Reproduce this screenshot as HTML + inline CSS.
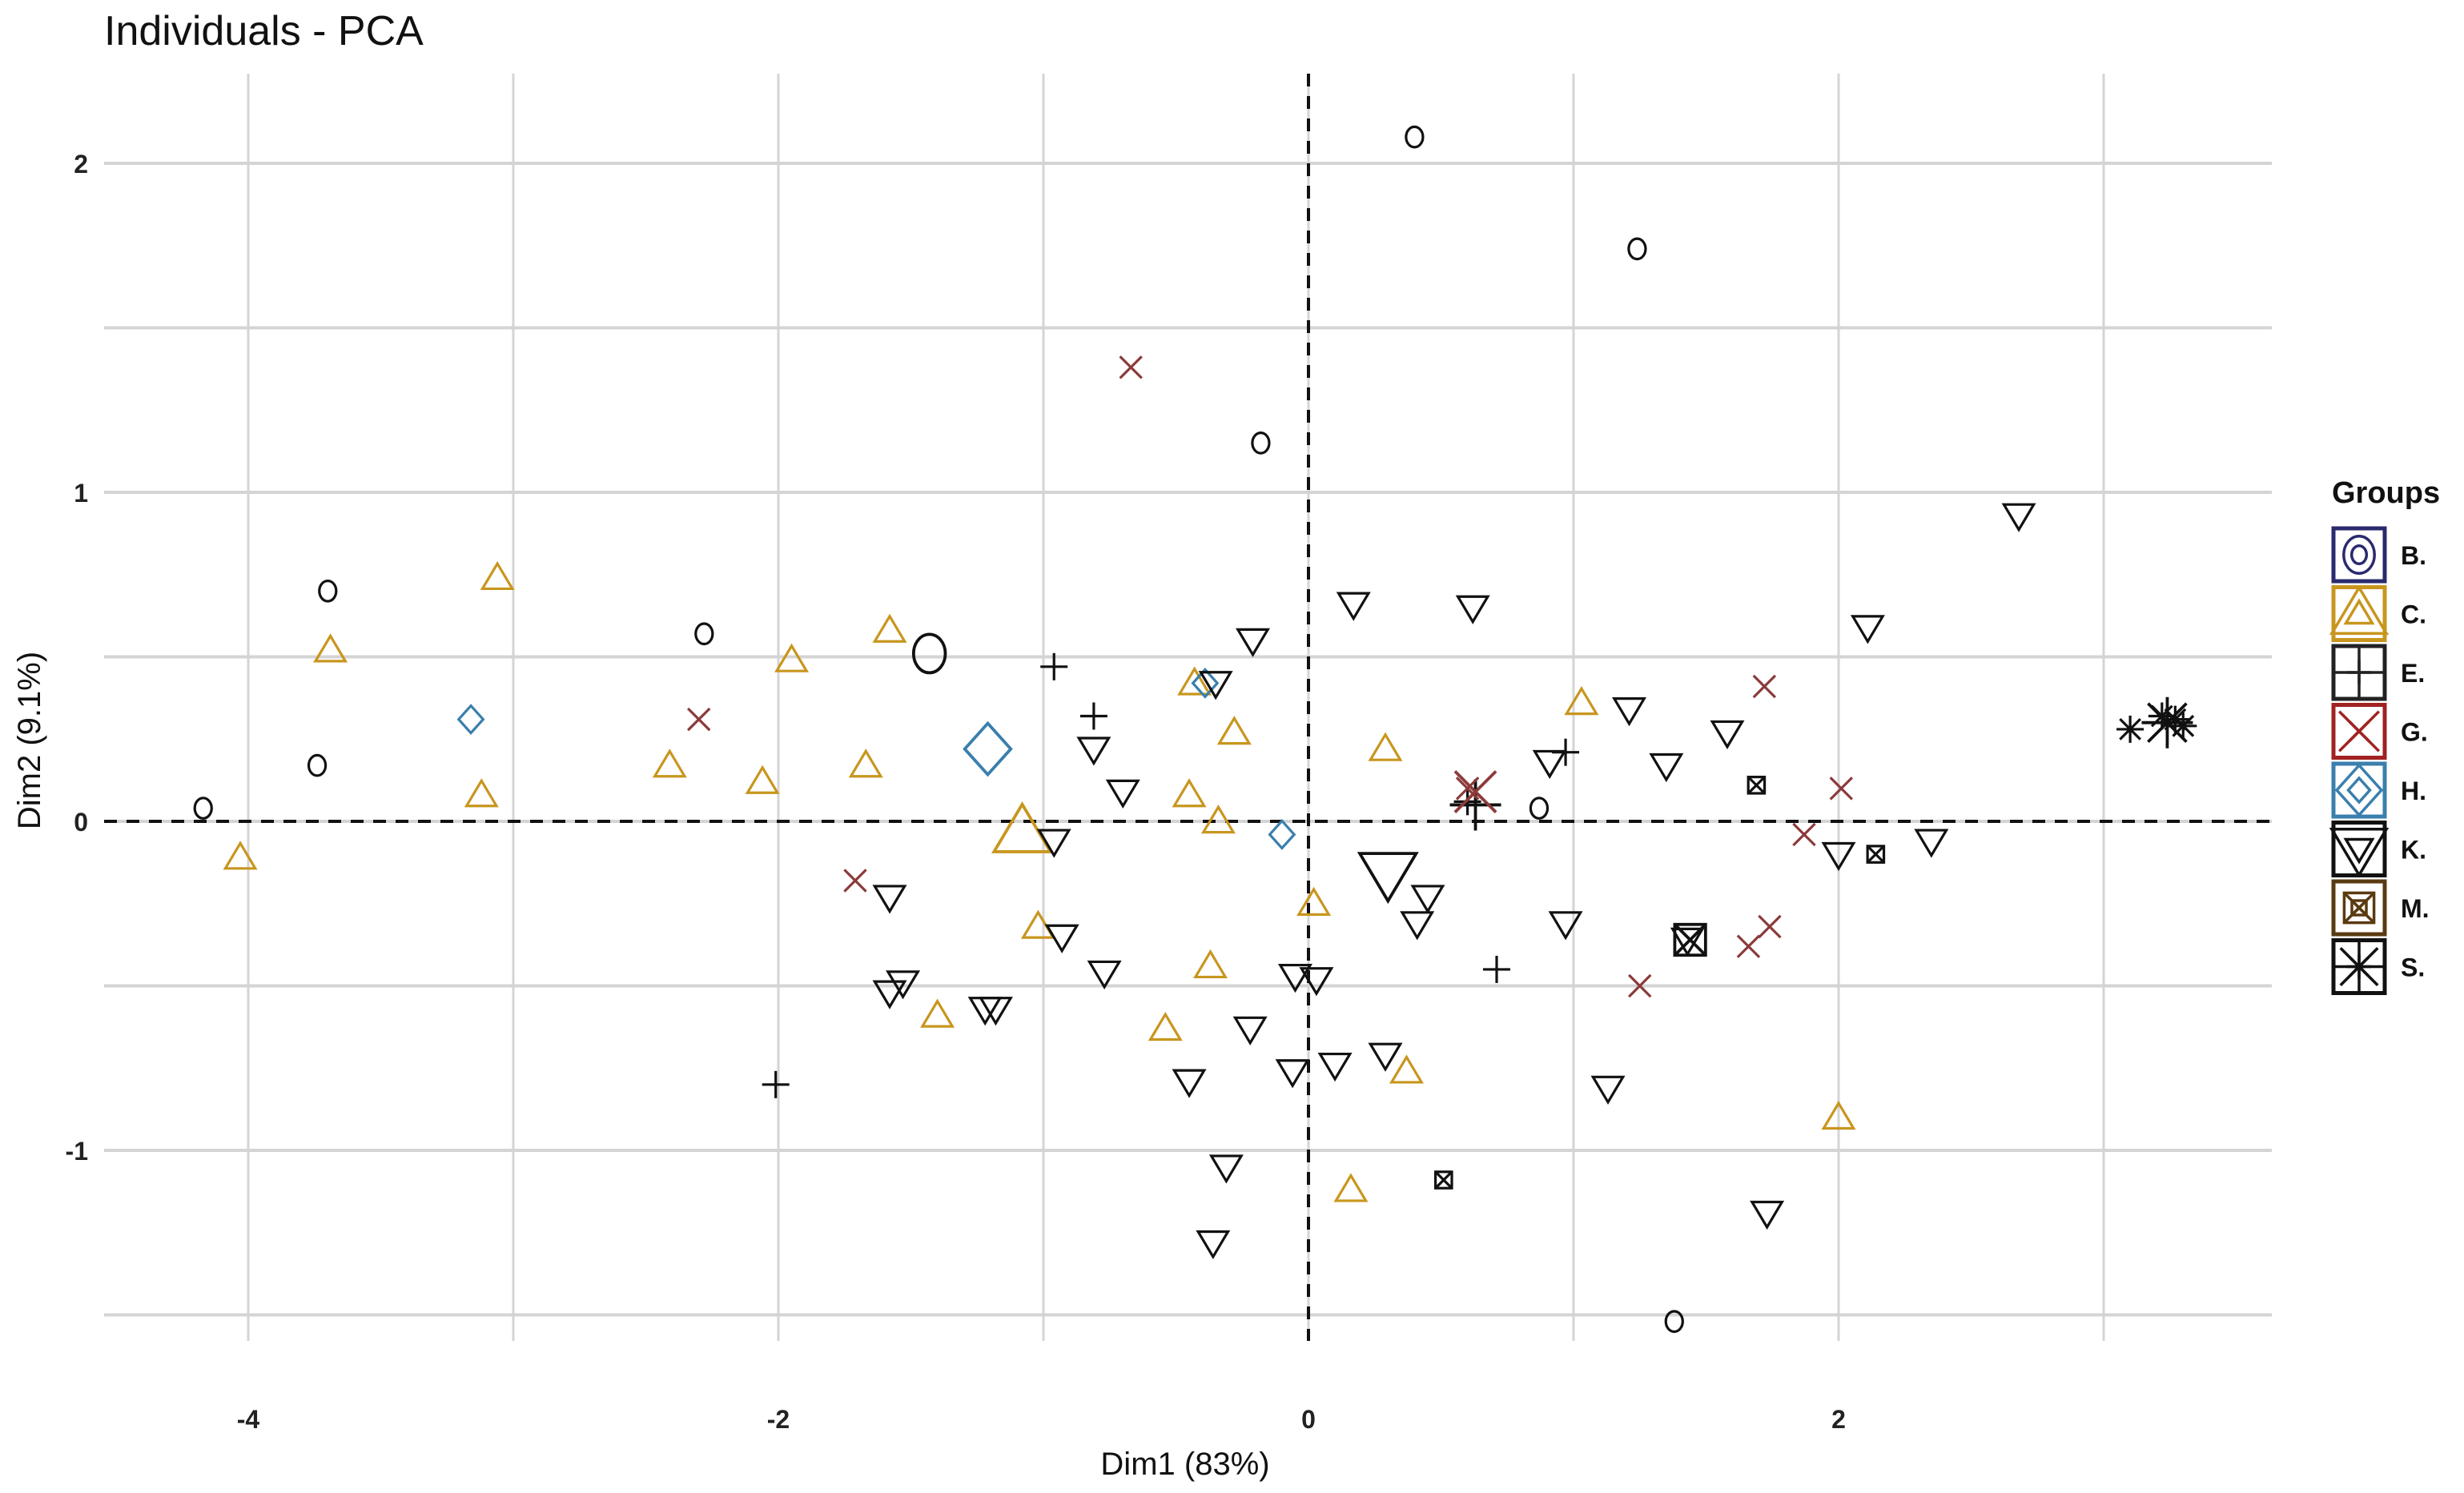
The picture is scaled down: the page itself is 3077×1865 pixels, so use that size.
<!DOCTYPE html>
<html><head><meta charset="utf-8"><style>
html,body{margin:0;padding:0;background:#fff}
svg{display:block}
text{font-family:"Liberation Sans",Arial,sans-serif}
</style></head><body>
<svg id="chart" width="3077" height="1865" viewBox="0 0 3077 1865" xmlns="http://www.w3.org/2000/svg">
<text x="130" y="56" font-size="52" fill="#111">Individuals - PCA</text>
<g id="grid"></g>
<g id="axes"></g>
<g id="pts"></g>
<text x="1480" y="1842" font-size="40" text-anchor="middle" fill="#111">Dim1 (83%)</text>
<text x="0" y="0" font-size="40" text-anchor="middle" fill="#111" transform="translate(50,925) rotate(-90)">Dim2 (9.1%)</text>
<g id="legend"></g>
</svg>
<script>
const xTicks=[-4,-2,0,2];
const yTicks=[-1,0,1,2];
const xMinor=[-3,-1,1,3];
const yMinor=[-1.5,-0.5,0.5,1.5];
const groups=["B.","C.","E.","G.","H.","K.","M.","S."];
const shapes=["circle","tri","plus","x","diamond","dtri","sqx","star"];
const colors=["#111","#C8961E","#111","#8B3A3A","#3A7FAD","#111","#111","#111"];
const legendColors=["#2a2a6e","#C8961E","#222","#A02222","#3A7FAD","#111","#5A3A10","#111"];
const groupB=[[0.40,2.08],[1.24,1.74],[-0.18,1.15],[-3.70,0.70],[-2.28,0.57],[-3.74,0.17],[-4.17,0.04],[0.87,0.04],[1.38,-1.52]];
const groupC=[[-3.06,0.74],[-3.69,0.52],[-3.12,0.08],[-4.03,-0.11],[-1.95,0.49],[-2.41,0.17],[-2.06,0.12],[-1.58,0.58],[-1.67,0.17],[-0.43,0.42],[-0.28,0.27],[-0.45,0.08],[-0.34,0.0],[-1.02,-0.32],[-1.40,-0.59],[-0.54,-0.63],[-0.37,-0.44],[0.02,-0.25],[0.29,0.22],[1.03,0.36],[0.37,-0.76],[0.16,-1.12],[2.0,-0.90]];
const groupE=[[-0.96,0.47],[-0.81,0.32],[0.97,0.21],[0.71,-0.45],[-2.01,-0.80],[0.60,0.06]];
const groupG=[[-0.67,1.38],[-2.30,0.31],[-1.71,-0.18],[1.72,0.41],[2.01,0.10],[1.87,-0.04],[1.74,-0.32],[1.66,-0.38],[1.25,-0.50],[0.60,0.10]];
const groupH=[[-3.16,0.31],[-0.10,-0.04],[-0.39,0.42]];
const groupK=[[2.68,0.93],[2.11,0.59],[0.17,0.66],[0.62,0.65],[-0.21,0.55],[-0.35,0.42],[1.21,0.34],[1.58,0.27],[1.35,0.17],[0.91,0.18],[-0.81,0.22],[-0.70,0.09],[-0.96,-0.06],[2.35,-0.06],[2.0,-0.10],[-1.58,-0.23],[0.45,-0.23],[0.41,-0.31],[0.97,-0.31],[-0.93,-0.35],[1.43,-0.36],[-1.53,-0.49],[-1.58,-0.52],[-1.22,-0.57],[-1.18,-0.57],[-0.77,-0.46],[-0.05,-0.47],[0.03,-0.48],[-0.22,-0.63],[0.29,-0.71],[0.10,-0.74],[-0.06,-0.76],[-0.45,-0.79],[1.13,-0.81],[-0.31,-1.05],[1.73,-1.19],[-0.36,-1.28]];
const groupM=[[1.69,0.11],[2.14,-0.10],[0.51,-1.09]];
const groupS=[[3.10,0.28],[3.27,0.31],[3.30,0.29],[3.22,0.32]];
const centroids=[[-1.43,0.51],[-1.08,-0.03],[0.63,0.05],[0.63,0.09],[-1.21,0.22],[0.30,-0.16],[1.44,-0.36],[3.24,0.30]];
const allGroups=[groupB,groupC,groupE,groupG,groupH,groupK,groupM,groupS];

const NS="http://www.w3.org/2000/svg";
const X0=1634,XS=331,Y0=1026,YS=411;
const L=130,R=2837,T=92,B=1675;
function sx(v){return X0+v*XS;}
function sy(v){return Y0-v*YS;}
function mk(tag,attrs,parent){const e=document.createElementNS(NS,tag);for(const k in attrs)e.setAttribute(k,attrs[k]);parent.appendChild(e);return e;}
const grid=document.getElementById('grid'),axes=document.getElementById('axes'),pts=document.getElementById('pts'),leg=document.getElementById('legend');
xMinor.concat(xTicks).forEach(v=>{const l=mk('line',{x1:sx(v),x2:sx(v),y1:T,y2:B,stroke:'#d4d4d4','stroke-width':3},grid);

});
yMinor.concat(yTicks).forEach(v=>{const l=mk('line',{x1:L,x2:R,y1:sy(v),y2:sy(v),stroke:'#d4d4d4','stroke-width':4},grid);

});
xTicks.forEach(v=>{const t=mk('text',{x:sx(v),y:1784,'font-size':32,'font-weight':'bold','text-anchor':'middle',fill:'#222'},axes);t.textContent=v<0?'-'+(-v):v;

});
yTicks.forEach(v=>{const t=mk('text',{x:110,y:sy(v)+12,'font-size':32,'font-weight':'bold','text-anchor':'end',fill:'#222'},axes);t.textContent=v<0?'-'+(-v):v;

});
const h0=mk('line',{x1:L,x2:R,y1:sy(0),y2:sy(0),stroke:'#111','stroke-width':4,'stroke-dasharray':'16,12'},axes);


const v0=mk('line',{x1:sx(0),x2:sx(0),y1:T,y2:B,stroke:'#111','stroke-width':4,'stroke-dasharray':'16,12'},axes);



function shape(kind,cx,cy,s,col,parent,sw){
  const g=mk('g',{fill:'none',stroke:col,'stroke-width':sw},parent);
  const h=s/2;
  if(kind==='circle')mk('ellipse',{cx:cx,cy:cy,rx:h*0.62,ry:h*0.75},g);
  else if(kind==='tri')mk('polygon',{points:`${cx},${cy-h*1.05} ${cx+h*1.1},${cy+h*0.8} ${cx-h*1.1},${cy+h*0.8}`},g);
  else if(kind==='dtri')mk('polygon',{points:`${cx},${cy+h*1.05} ${cx+h*1.1},${cy-h*0.8} ${cx-h*1.1},${cy-h*0.8}`},g);
  else if(kind==='plus'){mk('line',{x1:cx-h,x2:cx+h,y1:cy,y2:cy},g);mk('line',{x1:cx,x2:cx,y1:cy-h,y2:cy+h},g);}
  else if(kind==='x'){const d=h*0.8;mk('line',{x1:cx-d,x2:cx+d,y1:cy-d,y2:cy+d},g);mk('line',{x1:cx-d,x2:cx+d,y1:cy+d,y2:cy-d},g);}
  else if(kind==='diamond')mk('polygon',{points:`${cx},${cy-h} ${cx+h*0.9},${cy} ${cx},${cy+h} ${cx-h*0.9},${cy}`},g);
  else if(kind==='sqx'){const d=h*0.6;mk('rect',{x:cx-d,y:cy-d,width:2*d,height:2*d},g);mk('line',{x1:cx-d,x2:cx+d,y1:cy-d,y2:cy+d},g);mk('line',{x1:cx-d,x2:cx+d,y1:cy+d,y2:cy-d},g);}
  else if(kind==='star'){const d=h*0.75;mk('line',{x1:cx-h,x2:cx+h,y1:cy,y2:cy},g);mk('line',{x1:cx,x2:cx,y1:cy-h,y2:cy+h},g);mk('line',{x1:cx-d,x2:cx+d,y1:cy-d,y2:cy+d},g);mk('line',{x1:cx-d,x2:cx+d,y1:cy+d,y2:cy-d},g);}
  return g;
}
allGroups.forEach((arr,gi)=>{
  arr.forEach(p=>{const e=shape(shapes[gi],sx(p[0]),sy(p[1]),34,colors[gi],pts,3.2);
    
    });
  const c=centroids[gi];
  const e=shape(shapes[gi],sx(c[0]),sy(c[1]),64,colors[gi],pts,3.8);
  
  
});
const gt=mk('text',{x:2912,y:628,'font-size':38,'font-weight':'bold',fill:'#111'},leg);gt.textContent='Groups';


groups.forEach((g,i)=>{
  const cy=693+i*73.5,cx=2946;
  const row=mk('g',{},leg);
  
  
  mk('rect',{x:2914,y:cy-33,width:64,height:66,fill:'#fff',stroke:legendColors[i],'stroke-width':5},row);
  shape(shapes[i],cx,cy,62,legendColors[i],row,3.5);
  shape(shapes[i],cx,cy,30,legendColors[i],row,3.5);
  const t=mk('text',{x:2998,y:cy+12,'font-size':32,'font-weight':'bold',fill:'#111'},row);t.textContent=g;
});
</script>
</body></html>
